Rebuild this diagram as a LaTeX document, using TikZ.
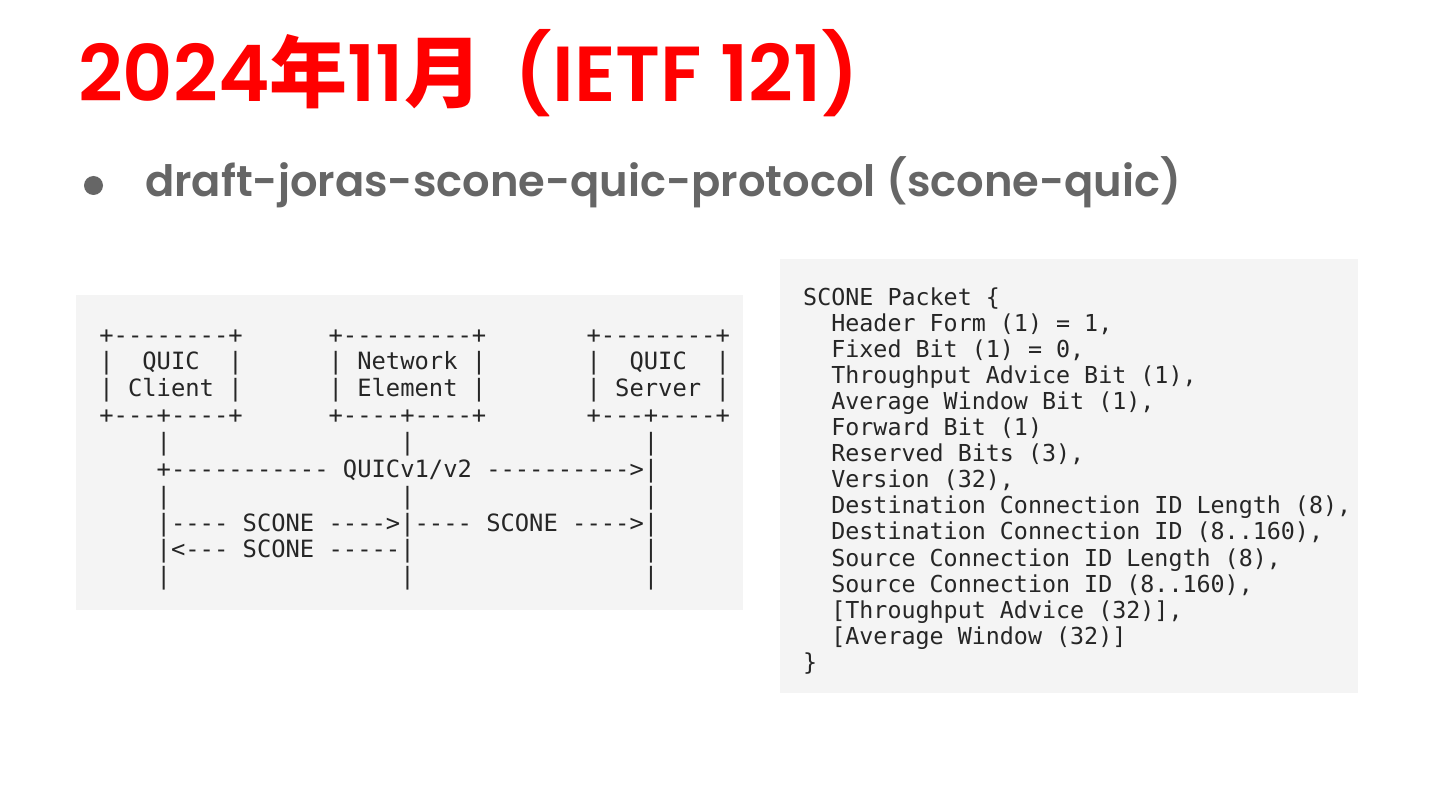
\documentclass[tikz,border=0pt]{standalone}
\usepackage{fontspec}
\setmainfont{Poppins}
\setmonofont{DejaVu Sans Mono}
\newfontfamily\cjk{Noto Sans CJK JP}
\newfontfamily\semi{Poppins SemiBold}
\definecolor{titlered}{HTML}{FF0000}
\definecolor{bulletgray}{HTML}{666666}
\definecolor{boxfill}{HTML}{F4F4F4}
\definecolor{codeink}{HTML}{262626}
\tikzset{
  codeL/.style={anchor=base west, inner sep=0pt, text=codeink,
    font=\fontsize{23.8}{26.86}\selectfont\ttfamily},
  codeR/.style={anchor=base west, inner sep=0pt, text=codeink,
    font=\fontsize{23.34}{26.07}\selectfont\ttfamily},
  panel/.style={fill=boxfill, draw=none},
}
\begin{document}
\begin{tikzpicture}[x=1pt,y=-1pt]
\useasboundingbox (0,0) rectangle (1440,810);
\fill[white] (0,0) rectangle (1440,810);

% title
\node[anchor=base west, inner sep=0pt, text=titlered,
  font=\fontsize{78}{80}\selectfont\semi] (title) at (78,101.7)
  {2024{\cjk\bfseries 年}11{\cjk\bfseries 月}\hspace{14pt} (IETF 121)};

% bullet
\node[circle, fill=bulletgray, minimum size=19pt, inner sep=0pt] (dot) at (93.5,185.5) {};
\node[anchor=base west, inner sep=0pt, text=bulletgray,
  font=\fontsize{43.2}{46}\selectfont\semi] (bullet) at (145,196.7)
  {draft-joras-scone-quic-protocol (scone-quic)};

% left panel
\path[panel] (76,295) rectangle (743,610);
\node[codeL] (l0) at (99.2,343.1)  {+--------+~~~~~~+---------+~~~~~~~+--------+};
\node[codeL] (l1) at (99.2,369.96) {|~~QUIC~~|~~~~~~|~Network~|~~~~~~~|~~QUIC~~|};
\node[codeL] (l2) at (99.2,396.82) {|~Client~|~~~~~~|~Element~|~~~~~~~|~Server~|};
\node[codeL] (l3) at (99.2,423.68) {+---+----+~~~~~~+----+----+~~~~~~~+---+----+};
\node[codeL] (l4) at (99.2,450.54) {~~~~|~~~~~~~~~~~~~~~~|~~~~~~~~~~~~~~~~|};
\node[codeL] (l5) at (99.2,477.40) {~~~~+-----------~QUICv1/v2~---------->|};
\node[codeL] (l6) at (99.2,504.26) {~~~~|~~~~~~~~~~~~~~~~|~~~~~~~~~~~~~~~~|};
\node[codeL] (l7) at (99.2,531.12) {~~~~|----~SCONE~---->|----~SCONE~---->|};
\node[codeL] (l8) at (99.2,557.98) {~~~~|<---~SCONE~-----|~~~~~~~~~~~~~~~~|};
\node[codeL] (l9) at (99.2,584.84) {~~~~|~~~~~~~~~~~~~~~~|~~~~~~~~~~~~~~~~|};

% right panel
\path[panel] (780,259) rectangle (1358,693);
\node[codeR] (r0)  at (803,305.3)  {SCONE Packet \{};
\node[codeR] (r1)  at (803,331.37) {~~Header Form (1) = 1,};
\node[codeR] (r2)  at (803,357.44) {~~Fixed Bit (1) = 0,};
\node[codeR] (r3)  at (803,383.51) {~~Throughput Advice Bit (1),};
\node[codeR] (r4)  at (803,409.58) {~~Average Window Bit (1),};
\node[codeR] (r5)  at (803,435.65) {~~Forward Bit (1)};
\node[codeR] (r6)  at (803,461.72) {~~Reserved Bits (3),};
\node[codeR] (r7)  at (803,487.79) {~~Version (32),};
\node[codeR] (r8)  at (803,513.86) {~~Destination Connection ID Length (8),};
\node[codeR] (r9)  at (803,539.93) {~~Destination Connection ID (8..160),};
\node[codeR] (r10) at (803,566.00) {~~Source Connection ID Length (8),};
\node[codeR] (r11) at (803,592.07) {~~Source Connection ID (8..160),};
\node[codeR] (r12) at (803,618.14) {~~[Throughput Advice (32)],};
\node[codeR] (r13) at (803,644.21) {~~[Average Window (32)]};
\node[codeR] (r14) at (803,670.28) {\}};
\end{tikzpicture}
\end{document}
